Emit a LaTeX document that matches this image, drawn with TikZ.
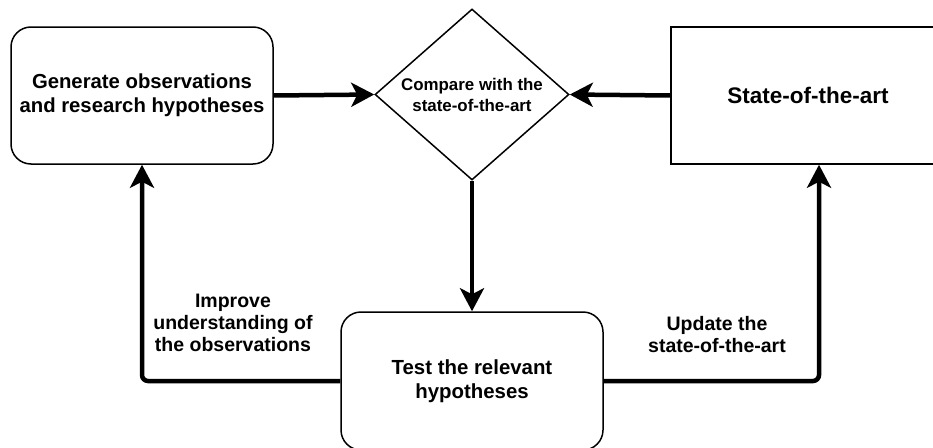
\documentclass[tikz,border=0pt]{standalone}
\usepackage{fontspec}
\setmainfont{Liberation Sans}
\usetikzlibrary{shapes.geometric,arrows.meta}
\begin{document}
\begin{tikzpicture}[x=1pt,y=-1pt,
  box/.style={draw=black,line width=1.5pt,inner sep=0pt,align=center,font=\bfseries},
  conn/.style={line width=4.5pt,-{Stealth[length=23pt,width=24pt,inset=6pt]}},
  lbl/.style={align=center,font=\bfseries\fontsize{19.5}{22}\selectfont}]
\useasboundingbox (0,0) rectangle (933,447);
\clip (0,0) rectangle (933,447);
\node[box,rounded corners=20pt,minimum width=262pt,minimum height=137pt,
  font=\bfseries\fontsize{20.3}{24}\selectfont] (L) at (142,95.5)
  {Generate observations\\and research hypotheses};
\node[box,shape=diamond,aspect=1.13,minimum width=194pt,minimum height=171pt,
  font=\bfseries\fontsize{16.9}{21}\selectfont] (D) at (472,94.5)
  {Compare with the\\state-of-the-art};
\node[box,minimum width=274pt,minimum height=137pt,
  font=\bfseries\fontsize{22.5}{26}\selectfont] (R) at (808,95.5)
  {State-of-the-art};
\node[box,rounded corners=20pt,minimum width=262pt,minimum height=138pt,
  font=\bfseries\fontsize{20.4}{24}\selectfont] (B) at (472,381)
  {Test the relevant\\hypotheses};
\node[lbl] (t1) at (233,323) {Improve\\understanding of\\the observations};
\node[lbl] (t2) at (717,335) {Update the\\state-of-the-art};
\draw[conn] (L.east) -- (D.west);
\draw[conn] (R.west) -- (D.east);
\draw[conn] (D.south) -- (B.north);
\draw[conn,rounded corners=6pt] (B.west) -| (L.south);
\draw[conn,rounded corners=6pt] (B.east) -| ([xshift=11pt]R.south);
\end{tikzpicture}
\end{document}
